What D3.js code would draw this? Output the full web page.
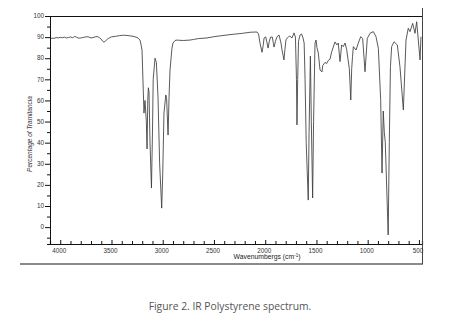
<!DOCTYPE html>
<html>
<head>
<meta charset="utf-8">
<script src="https://cdn.jsdelivr.net/npm/d3@7"></script>
<style>
  body { margin: 0; background: #fff; }
  svg { display: block; }
</style>
</head>
<body>
<div id="chart"></div>
<script>
// IR spectrum: wavenumber (cm-1) and % transmittance
const wavenumbers = [
  4095, 4080, 4060, 4040, 4020, 4000, 3980, 3960, 3940, 3920, 3900, 3880, 3860, 3840, 3820,
  3800, 3780, 3760, 3740, 3720, 3700, 3680, 3660, 3640, 3620, 3600, 3585, 3573, 3560, 3540,
  3520, 3500, 3460, 3420, 3390, 3350, 3320, 3290, 3260, 3240, 3222, 3212, 3202, 3190, 3183,
  3173, 3160, 3153, 3146, 3140, 3134, 3124, 3110, 3100, 3093, 3075, 3062, 3046, 3030, 3010,
  3000, 2988, 2970, 2962, 2948, 2938, 2929, 2910, 2900, 2880, 2860, 2840, 2800, 2734, 2700,
  2650, 2568, 2500, 2440, 2373, 2300, 2220, 2148, 2100, 2080, 2065, 2051, 2031, 2020, 2011,
  1995, 1985, 1972, 1960, 1948, 1930, 1920, 1914, 1900, 1885, 1865, 1846, 1836, 1817, 1808,
  1797, 1785, 1773, 1760, 1739, 1719, 1705, 1695, 1690, 1683, 1675, 1660, 1645, 1631, 1620,
  1611, 1600, 1580, 1572, 1559, 1550, 1537, 1528, 1514, 1504, 1495, 1482, 1465, 1446, 1439,
  1417, 1400, 1384, 1368, 1351, 1319, 1300, 1287, 1270, 1254, 1238, 1221, 1205, 1179, 1165,
  1156, 1148, 1140, 1114, 1092, 1068, 1049, 1026, 1004, 977, 945, 919, 896, 873, 860,
  848, 838, 828, 800, 789, 778, 766, 743, 711, 685, 652, 626, 604, 587, 561,
  538, 522, 506, 489, 480, 472
];
const transmittance = [
  89.3, 89.5, 89.4, 89.8, 89.6, 89.9, 89.7, 90.0, 89.6, 89.8, 90.1, 89.7, 90.3, 89.9, 89.5,
  89.6, 89.8, 90.0, 90.2, 90.0, 89.6, 89.8, 90.1, 90.3, 89.8, 89.0, 88.0, 87.6, 88.1, 89.0,
  89.7, 90.1, 90.4, 90.7, 90.9, 90.8, 90.6, 90.4, 90.0, 89.5, 88.6, 86.5, 83.9, 65.0, 54.0,
  60.0, 50.0, 37.0, 60.0, 66.0, 64.0, 40.0, 18.5, 45.0, 70.0, 80.0, 78.0, 61.6, 30.0, 9.0,
  25.0, 54.0, 62.6, 61.0, 43.6, 62.0, 74.4, 84.7, 87.2, 88.4, 88.6, 88.5, 88.4, 88.6, 88.9,
  89.3, 89.6, 90.2, 90.6, 91.0, 91.4, 91.8, 92.3, 92.4, 92.4, 91.5, 87.2, 82.8, 86.0, 89.6,
  90.1, 88.0, 84.8, 88.0, 90.0, 90.0, 87.0, 85.3, 88.0, 90.1, 91.0, 87.2, 84.0, 79.2, 84.0,
  88.7, 89.6, 90.1, 90.5, 89.6, 92.0, 90.0, 70.0, 48.4, 70.0, 88.0, 91.0, 91.5, 89.6, 87.2,
  70.0, 40.0, 12.8, 45.0, 81.0, 50.0, 13.8, 50.0, 87.2, 88.6, 85.0, 82.5, 74.4, 73.5, 76.5,
  78.0, 77.5, 79.0, 79.5, 83.1, 87.7, 86.3, 87.2, 78.4, 86.3, 85.5, 87.2, 84.0, 75.0,
  60.2, 75.0, 80.7, 85.5, 83.9, 87.1, 90.2, 89.4, 73.6, 89.4, 91.8, 92.6, 90.2, 84.7, 60.0,
  25.6, 55.0, 45.0, 40.0, -3.7, 40.0, 76.0, 85.5, 87.8, 86.3, 76.0, 55.5, 88.6, 94.2, 92.6,
  96.5, 91.8, 97.3, 88.6, 79.2, 90.2
];
const yTickValues = [0, 10, 20, 30, 40, 50, 60, 70, 80, 90, 100];
const xTickValues = [4000, 3500, 3000, 2500, 2000, 1500, 1000, 500];

const width = 450, height = 325;
const margin = {left: 50, right: 28, top: 16, bottom: 81};
const innerW = width - margin.left - margin.right,
      innerH = height - margin.top - margin.bottom;

const svg = d3.select("#chart").append("svg")
    .attr("width", width)
    .attr("height", height);

const x = d3.scaleLinear().domain([4100, 470]).range([0, innerW]);
const y = d3.scaleLinear().domain([-8, 100]).range([innerH, 0]);

const g = svg.append("g").attr("transform", "translate(" + margin.left + "," + margin.top + ")");

// outer picture border (shadow-like lines at right and bottom)
svg.append("line")
    .attr("x1", 20).attr("x2", margin.left + innerW + 1)
    .attr("y1", 264).attr("y2", 264)
    .attr("stroke", "#8a8a8a").attr("stroke-width", 2);
svg.append("line")
    .attr("x1", margin.left + innerW + 0.5).attr("x2", margin.left + innerW + 0.5)
    .attr("y1", 8).attr("y2", 264)
    .attr("stroke", "#444").attr("stroke-width", 1);

// frame top
g.append("line")
    .attr("x1", 0).attr("x2", innerW)
    .attr("y1", 0.5).attr("y2", 0.5)
    .attr("stroke", "#111");

// spectrum
const points = wavenumbers.map(function(w, i) { return [w, transmittance[i]]; });
const line = d3.line()
    .x(function(d) { return x(d[0]); })
    .y(function(d) { return y(d[1]); });

g.append("defs").append("clipPath").attr("id", "clip")
  .append("rect").attr("x", 0).attr("y", -10).attr("width", innerW).attr("height", innerH + 10);

g.append("path")
    .datum(points)
    .attr("clip-path", "url(#clip)")
    .attr("fill", "none")
    .attr("stroke", "#3c3c3c")
    .attr("stroke-width", 0.85)
    .attr("stroke-linejoin", "round")
    .attr("d", line);

// y axis: labels every 10, small ticks every 5
const yAxis = g.append("g")
    .call(d3.axisLeft(y).tickValues(d3.range(-5, 101, 5)).tickSize(3).tickFormat(""));
yAxis.select(".domain").attr("stroke", "#111");
yAxis.selectAll(".tick line").attr("stroke", "#111");
yAxis.selectAll(".tick").filter(function(d) { return d % 10 === 0; }).select("line").attr("x2", -5);

g.selectAll(".ylab").data(yTickValues).enter().append("text")
    .attr("class", "ylab")
    .attr("x", -6)
    .attr("y", function(d) { return y(d); })
    .attr("dy", "0.35em")
    .attr("text-anchor", "end")
    .attr("font-family", "Liberation Sans, Arial, sans-serif")
    .attr("font-size", 6.3)
    .attr("fill", "#333")
    .text(function(d) { return d; });

// x axis: ticks every 100 pointing inwards
const xAxis = g.append("g")
    .attr("transform", "translate(0," + innerH + ")")
    .call(d3.axisBottom(x).tickValues(d3.range(4000, 499, -100)).tickSize(-3).tickFormat(""));
xAxis.select(".domain").attr("stroke", "#111").attr("stroke-width", 1.2);
xAxis.selectAll(".tick line").attr("stroke", "#111");
xAxis.selectAll(".tick").filter(function(d) { return d % 500 === 0; }).select("line").attr("y2", -4);

g.selectAll(".xlab").data(xTickValues).enter().append("text")
    .attr("class", "xlab")
    .attr("x", function(d) { return x(d) - 1; })
    .attr("y", innerH + 9)
    .attr("text-anchor", "middle")
    .attr("font-family", "Liberation Sans, Arial, sans-serif")
    .attr("font-size", 6.3)
    .attr("fill", "#333")
    .text(function(d) { return d; });

// axis titles
const xTitle = svg.append("text")
    .attr("x", 267)
    .attr("y", 259)
    .attr("text-anchor", "middle")
    .attr("font-family", "Liberation Sans, Arial, sans-serif")
    .attr("font-size", 6.8)
    .attr("fill", "#222");
xTitle.append("tspan").text("Wavenumbergs (cm");
xTitle.append("tspan").attr("font-size", 4.5).attr("dy", -2.5).text("-1");
xTitle.append("tspan").attr("dy", 2.5).text(")");

svg.append("text")
    .attr("transform", "translate(32,134) rotate(-90)")
    .attr("text-anchor", "middle")
    .attr("font-family", "Liberation Sans, Arial, sans-serif")
    .attr("font-style", "italic")
    .attr("font-size", 6.5)
    .attr("fill", "#333")
    .text("Percentage of Tramitancia");

// caption under the picture
svg.append("text")
    .attr("x", 230)
    .attr("y", 310)
    .attr("text-anchor", "middle")
    .attr("font-family", "Open Sans, Lato, sans-serif")
    .attr("font-size", 10.3)
    .attr("fill", "#555")
    .text("Figure 2. IR Polystyrene spectrum.");
</script>
</body>
</html>
